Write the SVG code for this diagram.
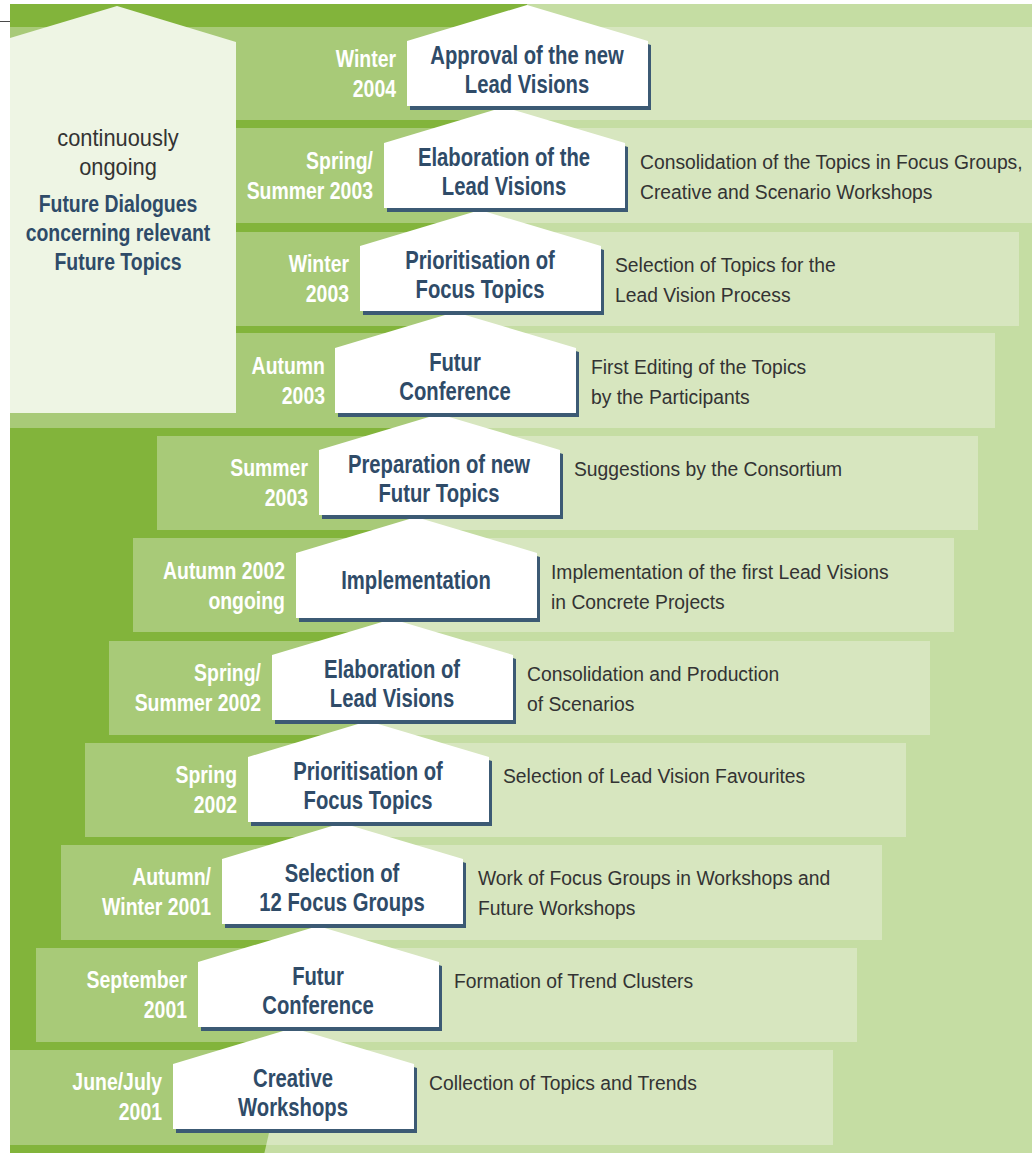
<svg xmlns="http://www.w3.org/2000/svg" xmlns:xlink="http://www.w3.org/1999/xlink" width="1032" height="1158" viewBox="0 0 1032 1158">
  <style>
    .title { font-family: "Liberation Sans", Arial, sans-serif; font-weight: bold; font-size: 25px; fill: #2f4b68; text-anchor: middle; }
    .date { font-family: "Liberation Sans", Arial, sans-serif; font-weight: bold; font-size: 24px; fill: #ffffff; text-anchor: end; }
    .desc { font-family: "Liberation Sans", Arial, sans-serif; font-size: 21px; fill: #333333; }
    .note { font-family: "Liberation Sans", Arial, sans-serif; font-size: 23px; fill: #333333; text-anchor: middle; }
    .noteb { font-family: "Liberation Sans", Arial, sans-serif; font-weight: bold; font-size: 24px; fill: #2f4b68; text-anchor: middle; }
  </style>
  <defs>
    <!-- house outline, apex at the origin -->
    <path id="house" d="M-120,36 L0,0 L121,36 L121,101 L-120,101 Z"/>
    <!-- everything right of the rising diagonal is drawn in the lighter tones -->
    <clipPath id="east">
      <polygon points="527.2,4 1032,4 1032,1153 264.4,1153"/>
    </clipPath>
    <g id="rows">
      <rect x="10" y="27" width="1022" height="93"/>
      <rect x="10" y="128" width="1022" height="95"/>
      <rect x="10" y="232" width="1009" height="94"/>
      <rect x="10" y="333" width="985" height="95"/>
      <rect x="157" y="436" width="821" height="94"/>
      <rect x="133" y="538" width="821" height="94"/>
      <rect x="109" y="641" width="821" height="94"/>
      <rect x="85" y="743" width="821" height="94"/>
      <rect x="61" y="845" width="821" height="95"/>
      <rect x="36" y="948" width="821" height="94"/>
      <rect x="10" y="1050" width="823" height="95"/>
    </g>
  </defs>

  <!-- page backdrop -->
  <g id="backdrop">
    <line x1="0" y1="21.5" x2="10" y2="21.5" stroke="#4a4a4a" stroke-width="1"/>
    <rect x="10" y="4" width="1022" height="1149" fill="#82b43b"/>
    <polygon points="527.2,4 1032,4 1032,1153 264.4,1153" fill="#c5dda3"/>
    <use xlink:href="#rows" href="#rows" fill="#a8ca78"/>
    <use xlink:href="#rows" href="#rows" fill="#d7e6bf" clip-path="url(#east)"/>
  </g>

  <!-- side note -->
  <g id="future-dialogues">
    <polygon points="10,38 117,6 236,42 236,413 10,413" fill="#eef5e4"/>
    <text class="note" transform="matrix(0.95 0 0 1 118 0)"><tspan x="0" y="146">continuously</tspan><tspan x="0" y="175">ongoing</tspan></text>
    <text class="noteb" transform="matrix(0.81 0 0 1 118 0)"><tspan x="0" y="212">Future Dialogues</tspan><tspan x="0" y="241">concerning relevant</tspan><tspan x="0" y="270">Future Topics</tspan></text>
  </g>

  <!-- process steps, bottom to top -->
  <g id="step-11">
    <use xlink:href="#house" href="#house" x="296" y="1032" fill="#3c5a74"/>
    <use xlink:href="#house" href="#house" x="293" y="1028" fill="#ffffff"/>
    <text class="title" transform="matrix(0.81 0 0 1 293 0)"><tspan x="0" y="1087">Creative</tspan><tspan x="0" y="1116">Workshops</tspan></text>
    <text class="date" transform="matrix(0.81 0 0 1 162 0)"><tspan x="0" y="1090">June/July</tspan><tspan x="0" y="1120">2001</tspan></text>
    <text class="desc" transform="matrix(0.92 0 0 1 429 0)"><tspan x="0" y="1090">Collection of Topics and Trends</tspan></text>
  </g>

  <g id="step-10">
    <use xlink:href="#house" href="#house" x="321" y="930" fill="#3c5a74"/>
    <use xlink:href="#house" href="#house" x="318" y="926" fill="#ffffff"/>
    <text class="title" transform="matrix(0.81 0 0 1 318 0)"><tspan x="0" y="985">Futur</tspan><tspan x="0" y="1014">Conference</tspan></text>
    <text class="date" transform="matrix(0.81 0 0 1 187 0)"><tspan x="0" y="988">September</tspan><tspan x="0" y="1018">2001</tspan></text>
    <text class="desc" transform="matrix(0.92 0 0 1 454 0)"><tspan x="0" y="988">Formation of Trend Clusters</tspan></text>
  </g>

  <g id="step-9">
    <use xlink:href="#house" href="#house" x="345" y="827" fill="#3c5a74"/>
    <use xlink:href="#house" href="#house" x="342" y="823" fill="#ffffff"/>
    <text class="title" transform="matrix(0.81 0 0 1 342 0)"><tspan x="0" y="882">Selection of</tspan><tspan x="0" y="911">12 Focus Groups</tspan></text>
    <text class="date" transform="matrix(0.81 0 0 1 211 0)"><tspan x="0" y="885">Autumn/</tspan><tspan x="0" y="915">Winter 2001</tspan></text>
    <text class="desc" transform="matrix(0.92 0 0 1 478 0)"><tspan x="0" y="885">Work of Focus Groups in Workshops and</tspan><tspan x="0" y="915">Future Workshops</tspan></text>
  </g>

  <g id="step-8">
    <use xlink:href="#house" href="#house" x="371" y="725" fill="#3c5a74"/>
    <use xlink:href="#house" href="#house" x="368" y="721" fill="#ffffff"/>
    <text class="title" transform="matrix(0.81 0 0 1 368 0)"><tspan x="0" y="780">Prioritisation of</tspan><tspan x="0" y="809">Focus Topics</tspan></text>
    <text class="date" transform="matrix(0.81 0 0 1 237 0)"><tspan x="0" y="783">Spring</tspan><tspan x="0" y="813">2002</tspan></text>
    <text class="desc" transform="matrix(0.92 0 0 1 503 0)"><tspan x="0" y="783">Selection of Lead Vision Favourites</tspan></text>
  </g>

  <g id="step-7">
    <use xlink:href="#house" href="#house" x="395" y="623" fill="#3c5a74"/>
    <use xlink:href="#house" href="#house" x="392" y="619" fill="#ffffff"/>
    <text class="title" transform="matrix(0.81 0 0 1 392 0)"><tspan x="0" y="678">Elaboration of</tspan><tspan x="0" y="707">Lead Visions</tspan></text>
    <text class="date" transform="matrix(0.81 0 0 1 261 0)"><tspan x="0" y="681">Spring/</tspan><tspan x="0" y="711">Summer 2002</tspan></text>
    <text class="desc" transform="matrix(0.92 0 0 1 527 0)"><tspan x="0" y="681">Consolidation and Production</tspan><tspan x="0" y="711">of Scenarios</tspan></text>
  </g>

  <g id="step-6">
    <use xlink:href="#house" href="#house" x="419" y="521" fill="#3c5a74"/>
    <use xlink:href="#house" href="#house" x="416" y="517" fill="#ffffff"/>
    <text class="title" transform="matrix(0.81 0 0 1 416 0)"><tspan x="0" y="589">Implementation</tspan></text>
    <text class="date" transform="matrix(0.81 0 0 1 285 0)"><tspan x="0" y="579">Autumn 2002</tspan><tspan x="0" y="609">ongoing</tspan></text>
    <text class="desc" transform="matrix(0.92 0 0 1 551 0)"><tspan x="0" y="579">Implementation of the first Lead Visions</tspan><tspan x="0" y="609">in Concrete Projects</tspan></text>
  </g>

  <g id="step-5">
    <use xlink:href="#house" href="#house" x="442" y="418" fill="#3c5a74"/>
    <use xlink:href="#house" href="#house" x="439" y="414" fill="#ffffff"/>
    <text class="title" transform="matrix(0.81 0 0 1 439 0)"><tspan x="0" y="473">Preparation of new</tspan><tspan x="0" y="502">Futur Topics</tspan></text>
    <text class="date" transform="matrix(0.81 0 0 1 308 0)"><tspan x="0" y="476">Summer</tspan><tspan x="0" y="506">2003</tspan></text>
    <text class="desc" transform="matrix(0.92 0 0 1 574 0)"><tspan x="0" y="476">Suggestions by the Consortium</tspan></text>
  </g>

  <g id="step-4">
    <use xlink:href="#house" href="#house" x="458" y="316" fill="#3c5a74"/>
    <use xlink:href="#house" href="#house" x="455" y="312" fill="#ffffff"/>
    <text class="title" transform="matrix(0.81 0 0 1 455 0)"><tspan x="0" y="371">Futur</tspan><tspan x="0" y="400">Conference</tspan></text>
    <text class="date" transform="matrix(0.81 0 0 1 325 0)"><tspan x="0" y="374">Autumn</tspan><tspan x="0" y="404">2003</tspan></text>
    <text class="desc" transform="matrix(0.92 0 0 1 591 0)"><tspan x="0" y="374">First Editing of the Topics</tspan><tspan x="0" y="404">by the Participants</tspan></text>
  </g>

  <g id="step-3">
    <use xlink:href="#house" href="#house" x="483" y="214" fill="#3c5a74"/>
    <use xlink:href="#house" href="#house" x="480" y="210" fill="#ffffff"/>
    <text class="title" transform="matrix(0.81 0 0 1 480 0)"><tspan x="0" y="269">Prioritisation of</tspan><tspan x="0" y="298">Focus Topics</tspan></text>
    <text class="date" transform="matrix(0.81 0 0 1 349 0)"><tspan x="0" y="272">Winter</tspan><tspan x="0" y="302">2003</tspan></text>
    <text class="desc" transform="matrix(0.92 0 0 1 615 0)"><tspan x="0" y="272">Selection of Topics for the</tspan><tspan x="0" y="302">Lead Vision Process</tspan></text>
  </g>

  <g id="step-2">
    <use xlink:href="#house" href="#house" x="507" y="111" fill="#3c5a74"/>
    <use xlink:href="#house" href="#house" x="504" y="107" fill="#ffffff"/>
    <text class="title" transform="matrix(0.81 0 0 1 504 0)"><tspan x="0" y="166">Elaboration of the</tspan><tspan x="0" y="195">Lead Visions</tspan></text>
    <text class="date" transform="matrix(0.81 0 0 1 373 0)"><tspan x="0" y="169">Spring/</tspan><tspan x="0" y="199">Summer 2003</tspan></text>
    <text class="desc" transform="matrix(0.92 0 0 1 640 0)"><tspan x="0" y="169">Consolidation of the Topics in Focus Groups,</tspan><tspan x="0" y="199">Creative and Scenario Workshops</tspan></text>
  </g>

  <g id="step-1">
    <use xlink:href="#house" href="#house" x="530" y="9" fill="#3c5a74"/>
    <use xlink:href="#house" href="#house" x="527" y="5" fill="#ffffff"/>
    <text class="title" transform="matrix(0.81 0 0 1 527 0)"><tspan x="0" y="64">Approval of the new</tspan><tspan x="0" y="93">Lead Visions</tspan></text>
    <text class="date" transform="matrix(0.81 0 0 1 396 0)"><tspan x="0" y="67">Winter</tspan><tspan x="0" y="97">2004</tspan></text>
  </g>
</svg>
